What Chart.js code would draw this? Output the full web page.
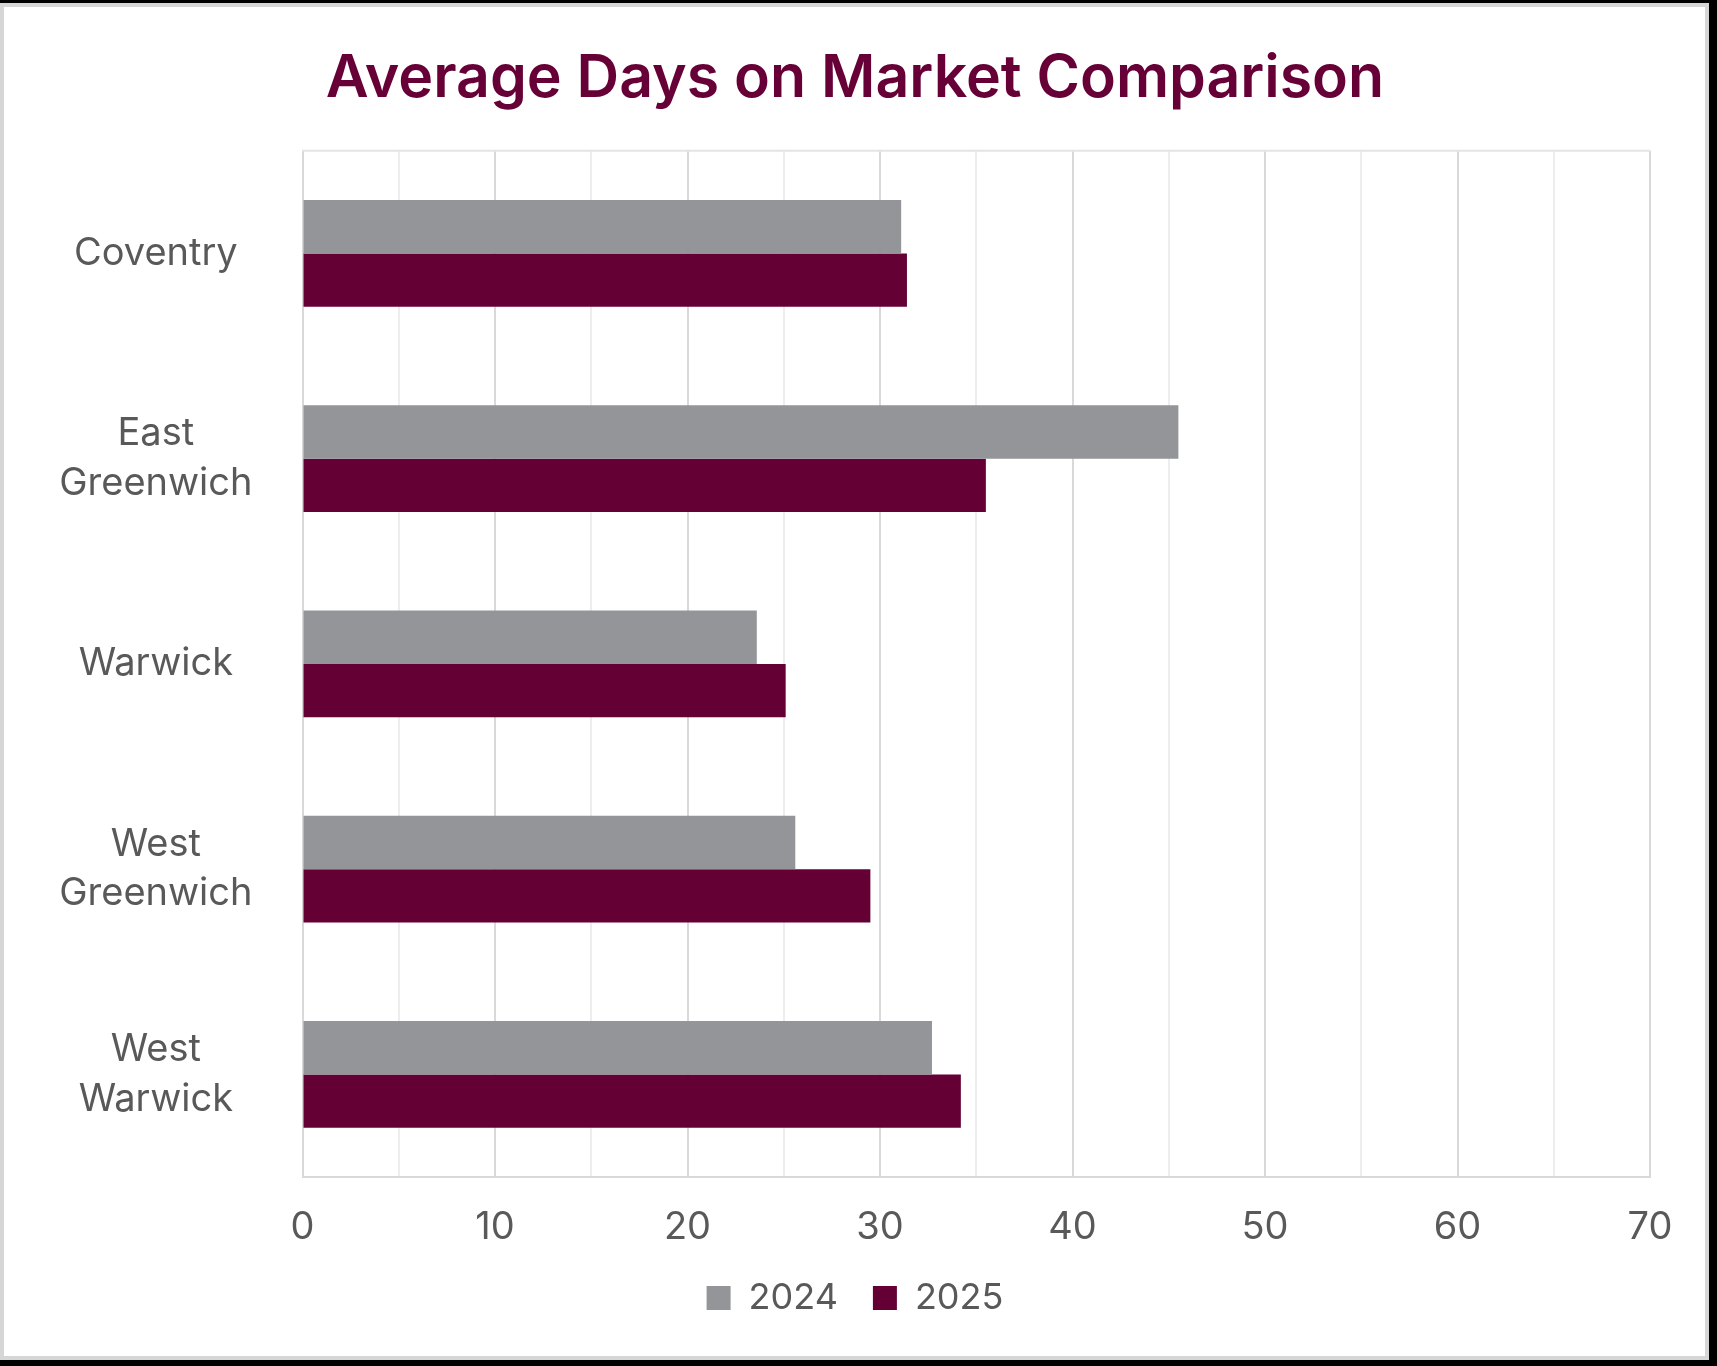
<!DOCTYPE html>
<html lang="en">
<head>
    <meta charset="UTF-8">
    <title>Average Days on Market Comparison</title>
    <script src="https://cdn.jsdelivr.net/npm/chart.js@4.4.1/dist/chart.umd.min.js"></script>
    <style>
        html, body { margin: 0; padding: 0; background: #000; }
        #card {
            position: absolute; left: 0; top: 3px; width: 1709px; height: 1357px;
            box-sizing: border-box; border: 4px solid #d6d6d6; background: #fff;
        }
        #wrap { position: absolute; left: 0; top: 0; width: 1717px; height: 1366px; }
    </style>
</head>
<body>
<div id="card"></div>
<div id="wrap"><canvas id="myChart"></canvas></div>
<script>
    // data
    var towns = [['Coventry'], ['East', 'Greenwich'], ['Warwick'], ['West', 'Greenwich'], ['West', 'Warwick']];
    var days2024 = [31.1, 45.5, 23.6, 25.6, 32.7];
    var days2025 = [31.4, 35.5, 25.1, 29.5, 34.2];
    var seriesNames = ['2024', '2025'];
    var xTicks = [0, 10, 20, 30, 40, 50, 60, 70];

    var textGrey = '#595959';

    // light line along the top of the plot area (Excel style plot border)
    var plotFrame = {
        id: 'plotFrame',
        beforeDatasetsDraw: function(chart) {
            var a = chart.chartArea, ctx = chart.ctx;
            ctx.save();
            ctx.strokeStyle = '#e4e4e4';
            ctx.lineWidth = 2;
            ctx.beginPath();
            ctx.moveTo(a.left, a.top);
            ctx.lineTo(a.right, a.top);
            ctx.stroke();
            ctx.restore();
        }
    };

    var ctx = document.getElementById('myChart').getContext('2d');
    var chart = new Chart(ctx, {
        type: 'bar',
        data: {
            labels: towns,
            datasets: [
                {
                    label: seriesNames[0],
                    data: days2024,
                    backgroundColor: '#939598',
                    barPercentage: 1.0,
                    categoryPercentage: 0.52
                },
                {
                    label: seriesNames[1],
                    data: days2025,
                    backgroundColor: '#650035',
                    barPercentage: 1.0,
                    categoryPercentage: 0.52
                }
            ]
        },
        options: {
            indexAxis: 'y',
            responsive: true,
            maintainAspectRatio: false,
            devicePixelRatio: 1,
            animation: false,
            layout: {
                padding: { top: 4, left: 60, right: 67, bottom: 40 }
            },
            scales: {
                x: {
                    min: 0,
                    max: 70,
                    ticks: {
                        stepSize: 5,
                        color: textGrey,
                        font: { family: 'Inter', size: 38 },
                        padding: 28,
                        maxRotation: 0,
                        autoSkip: false,
                        callback: function(v) {
                            return xTicks.indexOf(v) >= 0 ? String(v) : '';
                        }
                    },
                    grid: {
                        drawTicks: false,
                        color: function(c) {
                            return (c.tick && c.tick.value % 10 === 0) ? '#d9d9d9' : '#ededed';
                        },
                        lineWidth: 2
                    },
                    border: { display: true, color: '#d9d9d9', width: 2 },
                    afterFit: function(scale) {
                        scale.height = 68;
                    }
                },
                y: {
                    grid: { display: false, drawTicks: false },
                    border: { display: true, color: '#d9d9d9', width: 2 },
                    ticks: {
                        color: textGrey,
                        font: { family: 'Inter', size: 38, lineHeight: 1.3 },
                        padding: 50,
                        crossAlign: 'center'
                    },
                    afterFit: function(scale) {
                        scale.width = 242.5;
                    }
                }
            },
            plugins: {
                title: {
                    display: true,
                    text: 'Average Days on Market Comparison',
                    color: '#670036',
                    font: { family: 'Inter', size: 59, weight: '600', lineHeight: 1.2 },
                    padding: { top: 40, bottom: 36 }
                },
                legend: {
                    position: 'bottom',
                    labels: {
                        color: textGrey,
                        font: { family: 'Inter', size: 36 },
                        boxWidth: 24,
                        boxHeight: 24,
                        padding: 35
                    }
                },
                tooltip: { enabled: false }
            }
        },
        plugins: [plotFrame]
    });
</script>
</body>
</html>
